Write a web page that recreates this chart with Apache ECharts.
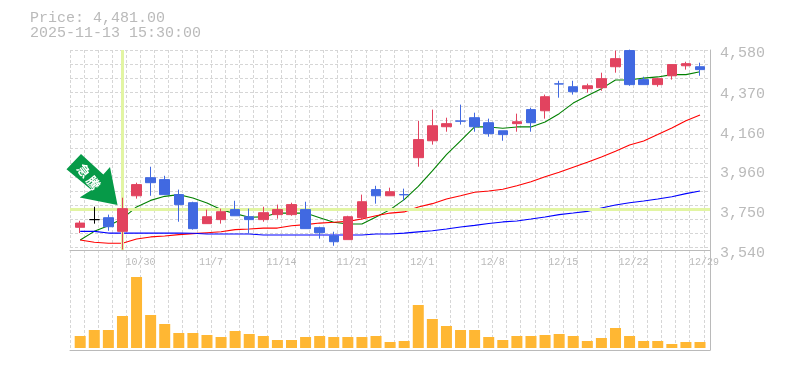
<!DOCTYPE html>
<html>
<head>
<meta charset="utf-8">
<style>html,body{margin:0;padding:0;background:#fff}#c{width:785px;height:370px}</style>
<script src="https://cdn.jsdelivr.net/npm/echarts@6/dist/echarts.min.js"></script>
</head>
<body>
<div id="c"></div>
<script>
const categories = ['10/24','10/27','10/28','10/29','10/30','10/31','11/4','11/5','11/6','11/7','11/10','11/11','11/12','11/13','11/14','11/17','11/18','11/19','11/20','11/21','11/25','11/26','11/27','11/28','12/1','12/2','12/3','12/4','12/5','12/8','12/9','12/10','12/11','12/12','12/15','12/16','12/17','12/18','12/19','12/22','12/23','12/24','12/25','12/26','12/29'];
const tickDates = ['10/30','11/7','11/14','11/21','12/1','12/8','12/15','12/22','12/29'];
const priceTicks = [3540,3750,3960,4160,4370,4580];
const opens  = [3658,3698,3708,3637,3822,3916,3906,3828,3786,3677,3698,3750,3713,3698,3724,3724,3750,3656,3614,3594,3708,3854,3822,3828,4020,4108,4181,4211,4228,4202,4160,4197,4270,4264,4404,4389,4379,4384,4493,4577,4426,4400,4446,4498,4493];
const closes = [3680,3698,3661,3755,3880,3890,3828,3776,3651,3713,3739,3718,3698,3734,3750,3776,3651,3630,3583,3713,3791,3822,3843,3827,4114,4186,4197,4210,4181,4145,4140,4207,4202,4337,4403,4363,4394,4431,4535,4400,4400,4431,4504,4509,4478];
const lows   = [3628,3677,3640,3543,3807,3822,3828,3687,3646,3677,3677,3718,3625,3687,3703,3718,3651,3599,3562,3594,3698,3781,3822,3796,3973,4088,4155,4192,4155,4129,4108,4155,4155,4223,4332,4348,4358,4368,4462,4394,4400,4389,4426,4478,4446];
const highs  = [3692,3765,3724,3812,3890,3973,3926,3854,3791,3750,3755,3796,3755,3765,3776,3786,3791,3661,3635,3718,3828,3874,3864,3859,4212,4270,4228,4296,4254,4223,4160,4249,4280,4348,4420,4420,4405,4462,4577,4582,4441,4436,4504,4519,4514];
const maShort = [3592,3637,3666,3703,3764,3798,3819,3828,3810,3784,3750,3729,3710,3712,3732,3732,3732,3708,3684,3675,3675,3712,3750,3802,3871,3952,4036,4108,4180,4180,4173,4180,4180,4206,4249,4304,4342,4379,4424,4424,4434,4440,4452,4452,4467];
const maMid   = [3592,3580,3575,3575,3597,3608,3613,3620,3625,3630,3635,3646,3649,3654,3654,3666,3672,3680,3684,3689,3701,3718,3732,3738,3764,3781,3805,3822,3840,3847,3856,3874,3895,3921,3944,3970,3996,4024,4053,4086,4107,4140,4174,4212,4242];
const maLong  = [3637,3637,3628,3628,3628,3628,3628,3628,3627,3623,3623,3623,3623,3618,3618,3618,3618,3618,3618,3618,3618,3623,3623,3628,3634,3640,3649,3660,3668,3678,3686,3691,3701,3712,3724,3732,3741,3758,3774,3786,3795,3805,3817,3833,3847];
const volumes = [12,18,18,32,71,33,24,15,15,13,11,17,14,12,8,8,11,12,11,11,11,12,6,7,43,29,22,18,18,11,8,12,12,13,14,12,7,10,20,12,7,7,4,6,6];
const levelPrice = 3750;
const levelDate = '10/29';
const priceTitle = 'Price: 4,481.00';
const timeTitle = '2025-11-13 15:30:00';

const GRAY = '#bababa', DASH = '#d6d6d6', LEVEL = '#e2f5a3';
const RED = '#e2435f', BLUE = '#4169e1', ORANGE = '#ffb733';
const mono = '"Liberation Mono", "DejaVu Sans Mono", monospace';
const off = {show:false};
const lineStyleDash = {color:DASH, width:1, type:[3,2]};

const candleData = categories.map((c,i)=>{
  const item = {value:[opens[i],closes[i],lows[i],highs[i]]};
  if (opens[i]===closes[i]) item.itemStyle = {borderColorDoji:'#000', color:'#000', borderColor:'#000', color0:'#000', borderColor0:'#000'};
  return item;
});
const maLine = (data,color,z)=>({type:'line',xAxisIndex:2,yAxisIndex:3,data,symbol:'none',smooth:false,z,
  lineStyle:{color,width:1.1},silent:true,animation:false});

const chart = echarts.init(document.getElementById('c'),null,{renderer:'canvas'});
chart.setOption({
  animation:false,
  backgroundColor:'#fff',
  title:{text:priceTitle+'\n'+timeTitle,left:30,top:11,padding:0,
    textStyle:{fontFamily:mono,fontSize:15,fontWeight:'normal',color:GRAY,lineHeight:15}},
  grid:[
    {left:70,top:50,width:640,height:300},
    {left:70,top:50,width:640,height:200},
    {left:73.15,top:50,width:633.9,height:200},
    {left:73.15,top:250,width:633.9,height:98}
  ],
  xAxis:[
    {gridIndex:0,type:'value',min:0,max:45.44,interval:1,axisLabel:off,axisTick:off,
      axisLine:{show:true,onZero:false,lineStyle:{color:GRAY,width:1}},splitLine:{show:true,lineStyle:lineStyleDash}},
    {gridIndex:1,type:'value',min:0,max:1,axisLabel:off,axisTick:off,splitLine:off,
      axisLine:{show:true,onZero:false,lineStyle:{color:GRAY,width:1}}},
    {gridIndex:2,type:'category',data:categories,boundaryGap:true,axisLine:off,axisTick:off,splitLine:off,
      axisLabel:{show:true,color:GRAY,fontFamily:mono,fontSize:10,margin:7,hideOverlap:false,padding:[0,0,0,8],
        interval:(i,v)=>tickDates.includes(v)}},
    {gridIndex:3,type:'category',data:categories,boundaryGap:true,axisLine:off,axisTick:off,splitLine:off,axisLabel:off}
  ],
  yAxis:[
    {gridIndex:0,type:'value',position:'right',min:0,max:1,axisLabel:off,axisTick:off,splitLine:off,
      axisLine:{show:true,onZero:false,lineStyle:{color:GRAY,width:1}}},
    {gridIndex:1,type:'value',inverse:true,min:0,max:14.18,interval:1,axisLine:off,axisLabel:off,axisTick:off,
      splitLine:{show:true,lineStyle:lineStyleDash}},
    {gridIndex:1,type:'value',show:false,min:3540,max:4580,splitLine:off},
    {gridIndex:2,type:'value',position:'right',min:3540,max:4580,axisLine:off,axisTick:off,splitLine:off,
      axisLabel:{show:true,customValues:priceTicks,color:GRAY,fontFamily:mono,fontSize:15,margin:13,
        verticalAlign:'top',lineHeight:7,
        formatter:v=>Number(v).toLocaleString('en-US')}},
    {gridIndex:3,type:'value',show:false,min:0,max:98,splitLine:off}
  ],
  series:[
    {type:'line',xAxisIndex:1,yAxisIndex:2,data:[],z:1,silent:true,
      markLine:{silent:true,symbol:'none',animation:false,label:off,lineStyle:{color:LEVEL,width:3,type:'solid'},data:[{yAxis:levelPrice}]}},
    {type:'line',xAxisIndex:2,yAxisIndex:3,data:[],z:1,silent:true,
      markLine:{silent:true,symbol:'none',animation:false,label:off,lineStyle:{color:LEVEL,width:3,type:'solid'},data:[{xAxis:levelDate}]}},
    maLine(maShort,'#008000',2),
    maLine(maMid,'#ff0000',2),
    maLine(maLong,'#0000ff',2),
    {type:'candlestick',xAxisIndex:2,yAxisIndex:3,data:candleData,barWidth:10,z:5,silent:true,
      itemStyle:{color:RED,color0:BLUE,borderColor:RED,borderColor0:BLUE,borderColorDoji:BLUE,borderWidth:1}},
    {type:'bar',xAxisIndex:3,yAxisIndex:4,data:volumes,barWidth:11,z:3,silent:true,itemStyle:{color:ORANGE}}
  ],
  graphic:[
    {type:'polygon',z:20,silent:true,shape:{points:[[81,154],[66.5,169.3],[91.5,190],[79.7,197.5],[117.5,205],[110,167],[103.3,174.5]]},style:{fill:'#069a48'}},
    {type:'text',z:21,silent:true,x:84,y:170.7,rotation:-0.9,style:{text:'急',fill:'#fff',font:'bold 13px "Noto Sans CJK JP"',align:'center',verticalAlign:'middle'}},
    {type:'text',z:21,silent:true,x:93.3,y:182.7,rotation:-0.9,style:{text:'騰',fill:'#fff',font:'bold 13px "Noto Sans CJK JP"',align:'center',verticalAlign:'middle'}}
  ]
});
</script>
</body>
</html>
